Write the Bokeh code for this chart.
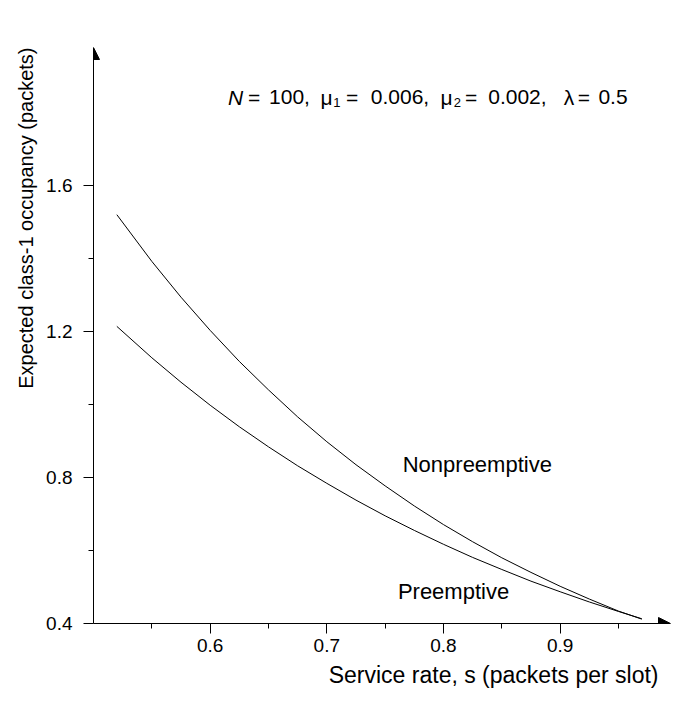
from bokeh.plotting import figure
from bokeh.models import Range1d, FixedTicker, Label, Arrow, NormalHead, Title
from bokeh.embed import file_html
from bokeh.resources import INLINE

# ---- data ----
service_rate = [0.52, 0.55, 0.575, 0.60, 0.625, 0.65, 0.675, 0.70, 0.725, 0.75,
                0.775, 0.80, 0.825, 0.85, 0.875, 0.90, 0.925, 0.95, 0.97]
nonpreemptive = [1.52, 1.392, 1.294, 1.203, 1.118, 1.040, 0.966, 0.898, 0.835, 0.777,
                 0.722, 0.671, 0.624, 0.580, 0.540, 0.502, 0.467, 0.434, 0.412]
preemptive = [1.214, 1.128, 1.061, 0.998, 0.939, 0.884, 0.832, 0.784, 0.738, 0.695,
              0.655, 0.617, 0.581, 0.548, 0.516, 0.487, 0.459, 0.433, 0.413]

x_major = [0.6, 0.7, 0.8, 0.9]
x_minor = [0.55, 0.65, 0.75, 0.85, 0.95]
y_major = [0.4, 0.8, 1.2, 1.6]
y_minor = [0.6, 1.0, 1.4]

X0, X1 = 0.5, 0.9946
Y0, Y1 = 0.4, 1.978

FONT = "Liberation Sans"

p = figure(width=673, height=701, output_backend="svg", toolbar_location=None,
           x_range=Range1d(X0, X1), y_range=Range1d(Y0, Y1),
           min_border_left=93, min_border_right=3, min_border_top=47,
           min_border_bottom=78)
p.outline_line_color = None
p.xgrid.visible = False
p.ygrid.visible = False
p.background_fill_color = "white"
p.border_fill_color = "white"

p.line(service_rate, nonpreemptive, line_color="black", line_width=1)
p.line(service_rate, preemptive, line_color="black", line_width=1)

for ax, major, minor in ((p.xaxis[0], x_major, x_minor), (p.yaxis[0], y_major, y_minor)):
    ax.ticker = FixedTicker(ticks=major, minor_ticks=minor)
    ax.axis_line_color = "black"
    ax.major_tick_line_color = "black"
    ax.minor_tick_line_color = "black"
    ax.major_tick_out = 10
    ax.major_tick_in = 0
    ax.minor_tick_out = 5
    ax.minor_tick_in = 0
    ax.major_label_text_font = FONT
    ax.major_label_text_font_size = "19px"
    ax.major_label_text_color = "black"

p.xaxis[0].major_label_standoff = 5
p.yaxis[0].major_label_standoff = 11

# arrow heads at the ends of the axes
p.add_layout(Arrow(end=NormalHead(size=12, fill_color="black", line_color="black"),
                   x_start=X0, y_start=Y0, x_end=X1, y_end=Y0, line_alpha=0))
p.add_layout(Arrow(end=NormalHead(size=12, fill_color="black", line_color="black"),
                   x_start=X0, y_start=Y0, x_end=X0, y_end=Y1, line_alpha=0))

# axis titles
p.add_layout(Title(text="Service rate, s (packets per slot)", align="right", offset=12,
                   standoff=10, text_font=FONT, text_font_size="23px",
                   text_font_style="normal", text_color="black"), "below")
p.add_layout(Title(text="Expected class-1 occupancy (packets)", align="right", offset=0,
                   standoff=13, text_font=FONT, text_font_size="20px",
                   text_font_style="normal", text_color="black"), "left")

def lab(text, x, y, size="21px", style="normal"):
    p.add_layout(Label(x=x, y=y, text=text, text_font=FONT, text_font_size=size,
                       text_font_style=style, text_color="black",
                       text_align="center", text_baseline="alphabetic"))

# curve labels
lab("Nonpreemptive", 0.8290, 0.835, size="22px")
lab("Preemptive", 0.8086, 0.487, size="22px")

# parameter annotation
ya, ys = 1.842, 1.826
lab("N", 0.6217, ya, style="italic")
lab("=", 0.6376, ya)
lab("100,", 0.6680, ya)
lab("\u03bc", 0.6997, ya)
lab("1", 0.7087, ys, size="13px")
lab("=", 0.7216, ya)
lab("0.006,", 0.7627, ya)
lab("\u03bc", 0.8026, ya)
lab("2", 0.8120, ys, size="13px")
lab("=", 0.8236, ya)
lab("0.002,", 0.8634, ya)
lab("\u03bb", 0.9076, ya)
lab("=", 0.9204, ya)
lab("0.5", 0.9453, ya)

open("out.html", "w").write(file_html(p, INLINE))
